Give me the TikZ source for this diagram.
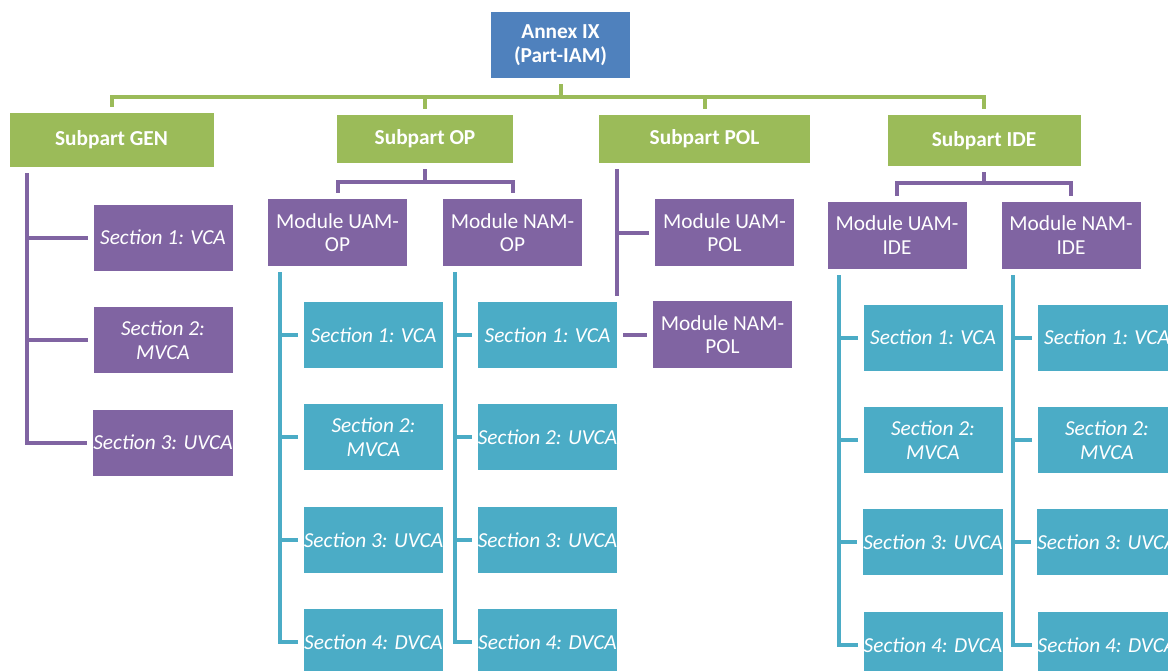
\documentclass[tikz,border=0pt]{standalone}
\usepackage{fontspec}
\setmainfont{Carlito}
\usetikzlibrary{backgrounds}
\definecolor{annexblue}{HTML}{4F81BD}
\definecolor{partgreen}{HTML}{9BBB59}
\definecolor{modpurple}{HTML}{8064A2}
\definecolor{sectcyan}{HTML}{4BACC6}
\newcommand\boxfont{\fontsize{16}{17.75}\selectfont}
\tikzset{
  box/.style={rectangle, inner sep=0pt, text=white, align=center,
    minimum width=104.25pt, minimum height=49.5pt,
    font=\boxfont,
    preaction={draw=white, line width=9pt}},
  annex/.style={box, fill=annexblue, font=\boxfont\bfseries},
  part/.style={box, fill=partgreen, minimum height=36pt, font=\boxfont\bfseries},
  module/.style={box, fill=modpurple, minimum height=50.25pt},
  gensect/.style={box, fill=modpurple, font=\boxfont\itshape},
  sect/.style={box, fill=sectcyan, font=\boxfont\itshape},
  gline/.style={draw=partgreen, line width=3pt},
  pline/.style={draw=modpurple, line width=3pt},
  cline/.style={draw=sectcyan, line width=3pt}
}
\begin{document}
\begin{tikzpicture}[x=0.75pt, y=-0.75pt]
  \clip (0,0) rectangle (1168,671);
  % top and subparts
  \node[annex] (annex) at (560.5,45) {Annex IX\\(Part-IAM)};
  \node[part, minimum width=153pt, minimum height=40.5pt] (gen) at (111.5,140) {Subpart GEN};
  \node[part, minimum width=132pt] (op) at (425,139) {Subpart OP};
  \node[part, minimum width=158.25pt] (pol) at (704.5,139) {Subpart POL};
  \node[part, minimum width=144.75pt, minimum height=38.25pt] (ide) at (984,140.5) {Subpart IDE};
  % modules
  \node[module] (uamop) at (337.5,232.5) {Module UAM-\\OP};
  \node[module] (namop) at (512.5,232.5) {Module NAM-\\OP};
  \node[module] (uampol) at (724.5,232.5) {Module UAM-\\POL};
  \node[module] (nampol) at (722.5,334.5) {Module NAM-\\POL};
  \node[module] (uamide) at (897,235) {Module UAM-\\IDE};
  \node[module] (namide) at (1071,235) {Module NAM-\\IDE};
  % sections
  \foreach \y/\txt [count=\i] in {237.5/{Section 1: VCA}, 340/{Section 2:\\MVCA}, 442.5/{Section 3: UVCA}}
    \node[gensect] (gen\i) at (163,\y) {\txt};
  \foreach \y/\txt [count=\i] in {335/{Section 1: VCA}, 437/{Section 2:\\MVCA}, 540/{Section 3: UVCA}, 642/{Section 4: DVCA}}
    \node[sect] (uamop\i) at (373.5,\y) {\txt};
  \foreach \y/\txt [count=\i] in {335/{Section 1: VCA}, 437/{Section 2: UVCA}, 540/{Section 3: UVCA}, 642/{Section 4: DVCA}}
    \node[sect] (namop\i) at (547.5,\y) {\txt};
  \foreach \y/\txt [count=\i] in {337.5/{Section 1: VCA}, 440/{Section 2:\\MVCA}, 542/{Section 3: UVCA}, 645/{Section 4: DVCA}} {
    \node[sect] (uamide\i) at (933,\y) {\txt};
    \node[sect] (namide\i) at (1107,\y) {\txt};
  }
  % connectors
  \begin{scope}[on background layer]
    \fill[white] (0,0) rectangle (1168,671);
    \coordinate (gbus) at (0,97);
    \coordinate (opbus) at (0,182);
    \coordinate (idebus) at (0,183);
    \foreach \n in {gen,op,pol,ide}
      \draw[gline] (annex.south) -- (annex.south |- gbus) -| (\n.north);
    \foreach \n in {uamop,namop}
      \draw[pline] (op.south) -- (op.south |- opbus) -| (\n.north);
    \foreach \n in {uamide,namide}
      \draw[pline] (ide.south) -- (ide.south |- idebus) -| (\n.north);
    \foreach \i in {1,2,3}
      \draw[pline] ([xshift=13.5pt]gen.south west) |- (gen\i.west);
    \foreach \n in {uampol,nampol}
      \draw[pline] ([xshift=13.5pt]pol.south west) |- (\n.west);
    \foreach \m in {uamop,namop,uamide,namide}
      \foreach \i in {1,...,4}
        \draw[cline] ([xshift=9pt]\m.south west) |- (\m\i.west);
  \end{scope}
\end{tikzpicture}
\end{document}
